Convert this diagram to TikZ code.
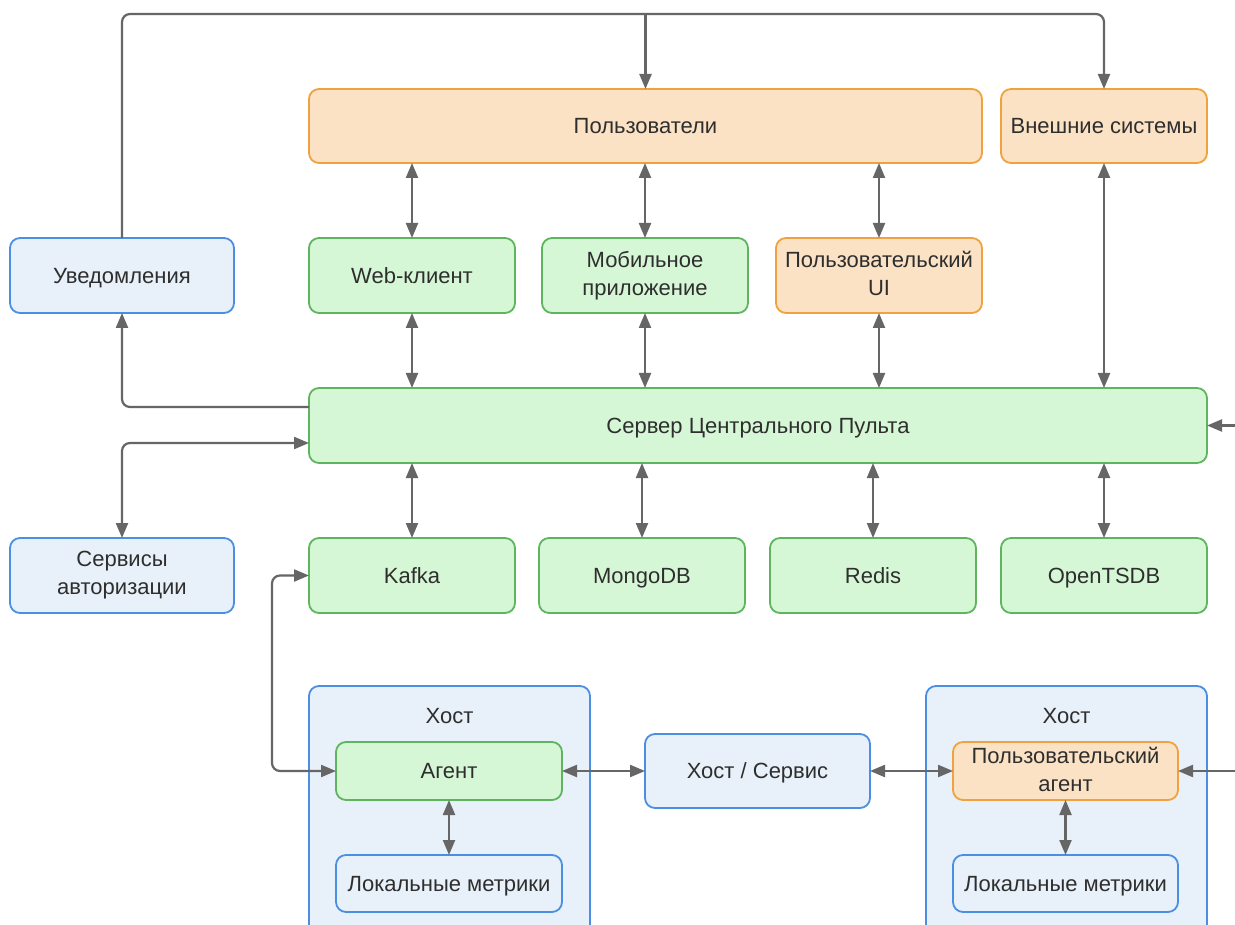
\documentclass[tikz,border=0pt]{standalone}
\usepackage{fontspec}
\setmainfont{Liberation Sans}
\usetikzlibrary{arrows.meta}
\definecolor{ofill}{HTML}{FBE2C4}
\definecolor{odraw}{HTML}{EFA23F}
\definecolor{gfill}{HTML}{D6F7D6}
\definecolor{gdraw}{HTML}{5FB55F}
\definecolor{bfill}{HTML}{E8F1F9}
\definecolor{bdraw}{HTML}{4A8FE2}
\definecolor{ln}{HTML}{666666}
\definecolor{txt}{HTML}{2E2E2E}
\newcommand\mystrut{\rule[-4.2pt]{0pt}{24.2pt}}
\begin{document}
\begin{tikzpicture}[x=1pt,y=-1pt,
  box/.style={rectangle, rounded corners=10pt, line width=1.8pt, outer sep=0pt, inner sep=2pt, align=center, font=\fontsize{22}{28}\selectfont, text=txt, execute at begin node=\mystrut, execute at end node=\mystrut},
  obox/.style={box, draw=odraw, fill=ofill},
  gbox/.style={box, draw=gdraw, fill=gfill},
  bbox/.style={box, draw=bdraw, fill=bfill},
  hostlbl/.style={font=\fontsize{22}{26}\selectfont, text=txt},
  conn/.style={draw=ln, line width=2.2pt, rounded corners=8pt},
  bi/.style={conn, {Triangle[length=15pt,width=12pt]}-{Triangle[length=15pt,width=12pt]}},
  uni/.style={conn, -{Triangle[length=15pt,width=12pt]}}]
\clip (0,0) rectangle (1235,925);
\fill[white] (0,0) rectangle (1235,925);

% host containers
\node[bbox, minimum width=281, minimum height=260] (host1) at (449.5,816) {};
\node[bbox, minimum width=281, minimum height=260] (host2) at (1066.5,816) {};
\node[hostlbl] (h1lbl) at (449.5,716) {Хост};
\node[hostlbl] (h2lbl) at (1066.5,716) {Хост};

% top row
\node[obox, minimum width=673, minimum height=74] (users) at (645.5,126) {Пользователи};
\node[obox, minimum width=206, minimum height=74] (ext) at (1104,126) {Внешние системы};

% second row
\node[bbox, minimum width=224, minimum height=75] (notif) at (122,275.5) {Уведомления};
\node[gbox, minimum width=206, minimum height=75] (web) at (412,275.5) {Web-клиент};
\node[gbox, minimum width=206, minimum height=75] (mob) at (645,275.5) {Мобильное\\приложение};
\node[obox, minimum width=206, minimum height=75] (ui) at (879,275.5) {Пользовательский\\UI};

% server
\node[gbox, minimum width=898, minimum height=75] (server) at (758,425.5) {Сервер Центрального Пульта};

% storage row
\node[bbox, minimum width=224, minimum height=75] (auth) at (122,575.5) {Сервисы\\авторизации};
\node[gbox, minimum width=206, minimum height=75] (kafka) at (412,575.5) {Kafka};
\node[gbox, minimum width=206, minimum height=75] (mongo) at (642,575.5) {MongoDB};
\node[gbox, minimum width=206, minimum height=75] (redis) at (873,575.5) {Redis};
\node[gbox, minimum width=206, minimum height=75] (tsdb) at (1104,575.5) {OpenTSDB};

% bottom
\node[gbox, minimum width=226, minimum height=58] (agent) at (449,771) {Агент};
\node[bbox, minimum width=226, minimum height=57] (lm1) at (449,883.5) {Локальные метрики};
\node[bbox, minimum width=225, minimum height=74] (hs) at (757.5,771) {Хост / Сервис};
\node[obox, minimum width=225, minimum height=58, inner sep=0pt] (uagent) at (1065.5,771) {Пользовательский\\агент};
\node[bbox, minimum width=225, minimum height=57] (lm2) at (1065.5,883.5) {Локальные метрики};

% coordinates
\coordinate (tl) at (122,14);
\coordinate (tr) at (1104,14);
\coordinate (tm) at (645.5,14);
\coordinate (kx) at (272,575.5);
\coordinate (re1) at (1240,425.5);
\coordinate (re2) at (1240,771);

% top loop
\draw[uni] (notif.north) -- (tl) -- (tr) -- (ext.north);
\draw[uni] (tm) -- (users.north);

% users <-> clients
\draw[bi] (users.south -| web) -- (web.north);
\draw[bi] (users.south -| mob) -- (mob.north);
\draw[bi] (users.south -| ui) -- (ui.north);
\draw[bi] (ext.south) -- (server.north -| ext);

% clients <-> server
\draw[bi] (web.south) -- (server.north -| web);
\draw[bi] (mob.south) -- (server.north -| mob);
\draw[bi] (ui.south) -- (server.north -| ui);

% server left side
\draw[uni] ([yshift=18.5pt]server.west) -| (notif.south);
\draw[bi] ([yshift=-17.5pt]server.west) -| (auth.north);
\draw[uni] (re1) -- (server.east);

% server <-> storage
\draw[bi] (server.south -| kafka) -- (kafka.north);
\draw[bi] (server.south -| mongo) -- (mongo.north);
\draw[bi] (server.south -| redis) -- (redis.north);
\draw[bi] (server.south -| tsdb) -- (tsdb.north);

% kafka <-> agent
\draw[bi] (kafka.west) -- (kx) |- (agent.west);

% bottom links
\draw[bi] (agent.east) -- (hs.west);
\draw[bi] (hs.east) -- (uagent.west);
\draw[uni] (re2) -- (uagent.east);
\draw[bi] (agent.south) -- (lm1.north);
\draw[bi] (uagent.south) -- (lm2.north);
\end{tikzpicture}
\end{document}
